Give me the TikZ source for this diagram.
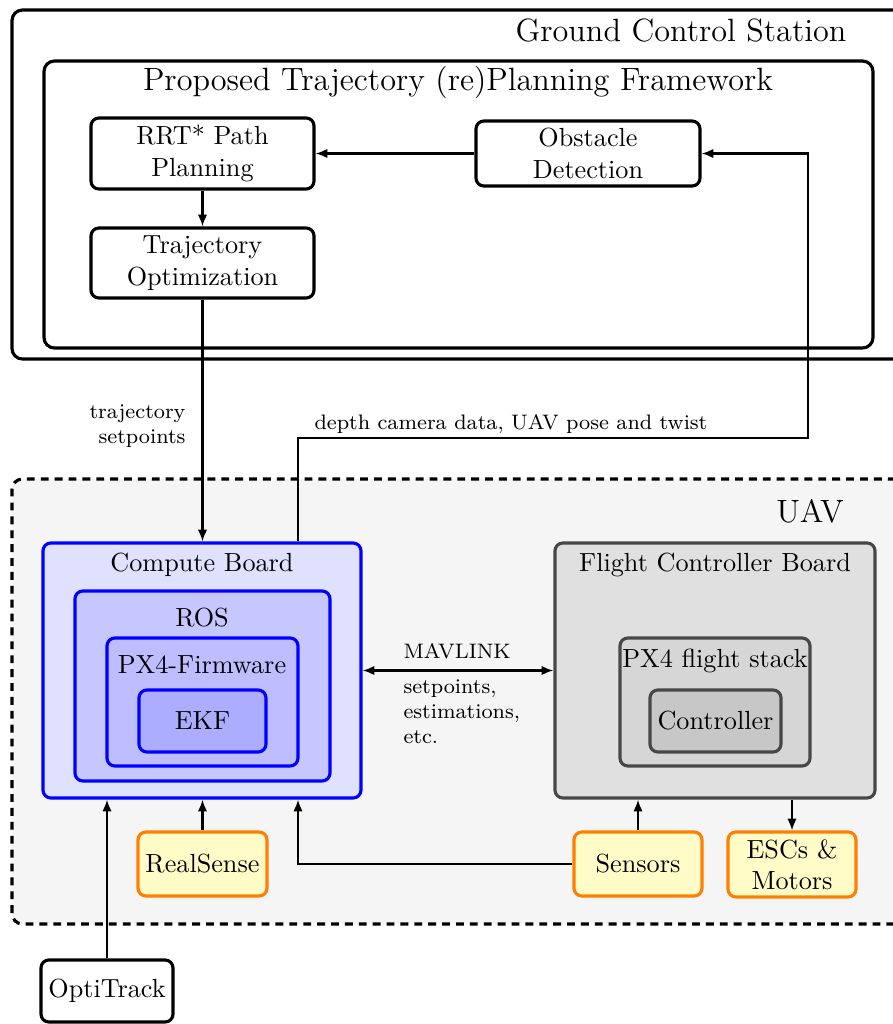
\documentclass[tikz,border=0pt]{standalone}
\usetikzlibrary{arrows.meta,fit,calc}
\tikzset{
  box/.style={draw, very thick, rounded corners=3pt, inner sep=0pt, align=center, fill=white},
  sz/.style 2 args={minimum width=#1*0.3817pt, minimum height=#2*0.3817pt},
  bigbox/.style={draw, very thick, rounded corners=4pt, inner sep=0pt},
  bluebox/.style={box, draw=blue},
  graybox/.style={box, draw=black!72},
  yelbox/.style={box, draw=orange, fill=yellow!22},
  arr/.style={thick, -{Latex[length=4.5pt,width=3.6pt]}},
  dbl/.style={thick, {Latex[length=4.5pt,width=3.6pt]}-{Latex[length=4.5pt,width=3.6pt]}},
  lbl/.style={inner sep=0pt, font=\footnotesize},
  ttl/.style={inner sep=0pt},
  bigttl/.style={inner sep=0pt, font=\fontsize{12.3}{15}\selectfont},
}
\begin{document}
\begin{tikzpicture}[x=0.3817pt, y=-0.3817pt]
\clip (0,0) rectangle (893,1024);
% Ground control station
\node[bigbox, fit={(12,10)(920,359)}] (gcs) {};
\node[bigttl] (gcsT) at (681,30) {Ground Control Station};
\node[bigbox, fit={(44,61)(873,348)}] (fw) {};
\node[bigttl] (fwT) at (458,82) {Proposed Trajectory (re)Planning Framework};
\node[box, sz={223}{71}] (rrt) at (202.5,153.5) {RRT* Path\\Planning};
\node[box, sz={224}{65}] (obs) at (588,153.5) {Obstacle\\Detection};
\node[box, sz={223}{70}] (traj) at (202.5,263) {Trajectory\\Optimization};
% UAV
\node[bigbox, dash pattern=on 3pt off 2.3pt, fill=black!4, fit={(12,479)(920,924)}] (uav) {};
\node[bigttl] (uavT) at (810,511) {UAV};
\node[bluebox, fill=blue!12, fit={(43,543)(361,798)}] (cb) {};
\node[ttl] (cbT) at (202,565) {Compute Board};
\node[bluebox, fill=blue!22, fit={(75,591)(330,781)}] (ros) {};
\node[ttl] (rosT) at (202,618) {ROS};
\node[bluebox, fill=blue!26, fit={(107,638)(298,766)}] (px4) {};
\node[ttl] (px4T) at (202,665) {PX4-Firmware};
\node[bluebox, fill=blue!32, sz={127}{62}] (ekf) at (202.5,721) {EKF};
\node[graybox, fill=black!12, fit={(555,543)(875,798)}] (fcb) {};
\node[ttl] (fcbT) at (715,565) {Flight Controller Board};
\node[graybox, fill=black!16, fit={(620,638)(810,766)}] (fs) {};
\node[ttl] (fsT) at (715,661) {PX4 flight stack};
\node[graybox, fill=black!22, sz={131}{62}] (ctl) at (715.5,721) {Controller};
\node[yelbox, sz={129}{64}] (rs) at (202.5,864) {RealSense};
\node[yelbox, sz={128}{64}] (sen) at (638,864) {Sensors};
\node[yelbox, sz={128}{65}] (esc) at (792,864.5) {ESCs \&\\Motors};
\node[box, sz={132}{62}] (opti) at (107,991) {OptiTrack};
% connectors
\draw[arr] (obs.west) -- (obs.west -| rrt.east);
\draw[arr] (rrt.south) -- (traj.north);
\draw[arr] (traj.south) -- (traj.south |- cb.north);
\coordinate (dc) at (298,438);
\coordinate (rc) at (808,438);
\draw[arr] (dc |- cb.north) -- (dc) -- (rc) -- (rc |- obs.east) -- (obs.east);
\draw[dbl] (cb.east) -- (fcb.west);
\draw[arr] (rs.north) -- (rs.north |- cb.south);
\draw[arr] (sen.west) -| (dc |- cb.south);
\draw[arr] (sen.north) -- (sen.north |- fcb.south);
\draw[arr] (esc.north |- fcb.south) -- (esc.north);
\draw[arr] (opti.north) -- (opti.north |- cb.south);
% labels
\node[lbl, align=right, anchor=east] (tsl) at (186,426) {trajectory\\setpoints};
\node[lbl, anchor=base west] (dcl) at (314,429) {depth camera data, UAV pose and twist};
\node[lbl, anchor=base west] (mvl) at (403,658) {MAVLINK};
\node[lbl, align=left, anchor=north west] (spl) at (403,679) {setpoints,\\estimations,\\etc.};
\end{tikzpicture}
\end{document}
